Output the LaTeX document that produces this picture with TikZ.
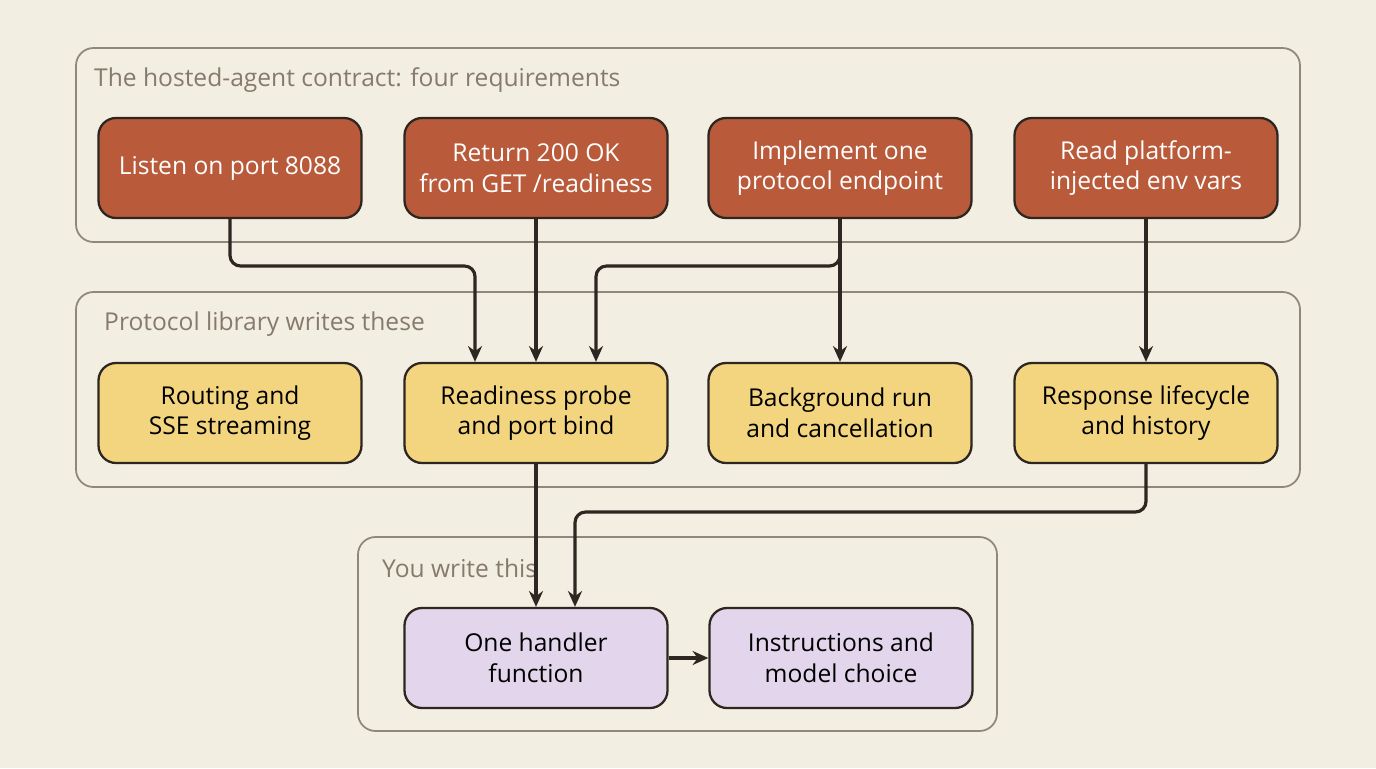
\documentclass[tikz,border=0pt]{standalone}
\usepackage{fontspec}
\setmainfont{Open Sans}
\usetikzlibrary{arrows.meta}
\definecolor{bg}{HTML}{F3EEE2}
\definecolor{redf}{HTML}{B95A3B}
\definecolor{yelf}{HTML}{F2D57E}
\definecolor{purf}{HTML}{E3D5EC}
\definecolor{edge}{HTML}{2E2620}
\definecolor{cont}{HTML}{8E877C}
\definecolor{lab}{HTML}{857A6C}
\begin{document}
\begin{tikzpicture}[x=0.02cm,y=-0.02cm,
  box/.style={draw=edge,line width=1.3pt,rounded corners=10pt,minimum width=263*0.02cm,minimum height=100*0.02cm,align=center,font=\fontsize{14}{17.5}\selectfont,inner sep=2pt},
  redbox/.style={box,fill=redf,text=white},
  yelbox/.style={box,fill=yelf,text=black},
  purbox/.style={box,fill=purf,text=black},
  contbox/.style={draw=cont,line width=1pt,rounded corners=10pt},
  clabel/.style={anchor=west,text=lab,font=\fontsize{14}{17}\selectfont},
  conn/.style={draw=edge,line width=1.8pt,rounded corners=6pt,-{Stealth[length=9pt,width=8pt]}}]
\fill[bg] (0,0) rectangle (1376,768);
\draw[contbox] (76,48) rectangle (1300,242);
\draw[contbox] (76,292) rectangle (1300,487);
\draw[contbox] (358,537) rectangle (997,731);
\node[clabel] (l1) at (88,80) {The hosted-agent contract: four requirements};
\node[clabel] (l2) at (98,324) {Protocol library writes these};
\node[clabel] (l3) at (376,568) {You write this};
\node[redbox] (r1) at (230,168) {Listen on port 8088};
\node[redbox] (r2) at (536,168) {Return 200 OK\\from GET /readiness};
\node[redbox] (r3) at (840,168) {Implement one\\protocol endpoint};
\node[redbox] (r4) at (1146,168) {Read platform-\\injected env vars};
\node[yelbox] (y1) at (230,413) {Routing and\\SSE streaming};
\node[yelbox] (y2) at (536,413) {Readiness probe\\and port bind};
\node[yelbox] (y3) at (840,413) {Background run\\and cancellation};
\node[yelbox] (y4) at (1146,413) {Response lifecycle\\and history};
\node[purbox] (p1) at (536,658) {One handler\\function};
\node[purbox] (p2) at (841,658) {Instructions and\\model choice};
\draw[conn] (r1.south) -- (230,266) -| ([xshift=-61*0.02cm]y2.north);
\draw[conn] (r2.south) -- (y2.north);
\draw[conn] (r3.south) -- (840,266) -| ([xshift=60*0.02cm]y2.north);
\draw[conn] (r3.south) -- (y3.north);
\draw[conn] (r4.south) -- (y4.north);
\draw[conn] (y2.south) -- (p1.north);
\draw[conn] (y4.south) -- (1146,512) -| ([xshift=39*0.02cm]p1.north);
\draw[conn] (p1.east) -- (p2.west);
\end{tikzpicture}
\end{document}
